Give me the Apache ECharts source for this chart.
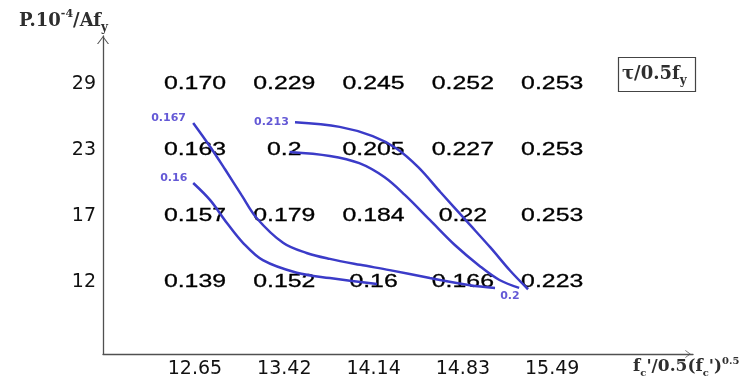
<!DOCTYPE html>
<html>
<head>
<meta charset="utf-8">
<script src="https://cdn.jsdelivr.net/npm/echarts@6/dist/echarts.min.js"></script>
<style>
  html, body { margin: 0; padding: 0; background: #ffffff; }
  #chart { width: 749px; height: 380px; }
</style>
</head>
<body>
<div id="chart"></div>
<script>
// Column and row tick labels (evenly spaced positions 0..n-1)
const xTicks = ['12.65', '13.42', '14.14', '14.83', '15.49'];
const yTicks = ['12', '17', '23', '29'];

// τ/0.5fy values, one array per row (bottom row first)
const row12 = ['0.139', '0.152', '0.16', '0.166', '0.223'];
const row17 = ['0.157', '0.179', '0.184', '0.22', '0.253'];
const row23 = ['0.163', '0.2', '0.205', '0.227', '0.253'];
const row29 = ['0.170', '0.229', '0.245', '0.252', '0.253'];

// Contour lines, as [column position, row position]
const contour0167 = [[-0.02, 2.41], [0.17, 2.05], [0.34, 1.70], [0.52, 1.32], [0.69, 0.97],
  [0.99, 0.59], [1.25, 0.44], [1.51, 0.35], [1.85, 0.26], [2.18, 0.18], [2.63, 0.06],
  [3.08, -0.05], [3.36, -0.09]];
const contour016 = [[-0.02, 1.50], [0.17, 1.24], [0.36, 0.89], [0.54, 0.59], [0.76, 0.33],
  [1.14, 0.14], [1.51, 0.06], [2.04, -0.03]];
const contour0213 = [[1.12, 2.42], [1.62, 2.35], [1.99, 2.21], [2.26, 2.02], [2.50, 1.74],
  [2.75, 1.36], [3.05, 0.91], [3.31, 0.52], [3.53, 0.17], [3.73, -0.11]];
const contour02 = [[1.06, 1.97], [1.51, 1.91], [1.84, 1.80], [2.12, 1.59], [2.35, 1.32],
  [2.63, 0.94], [2.91, 0.56], [3.19, 0.24], [3.41, 0.03], [3.63, -0.09]];

const rows = [row12, row17, row23, row29];
const cellPoints = [];
const cellTexts = [];
rows.forEach(function (row, r) {
  row.forEach(function (txt, c) {
    cellPoints.push([c, r]);
    cellTexts.push(txt);
  });
});

const serif = "'DejaVu Serif', 'Liberation Serif', serif";
const curveColor = '#3b3bc8';
const curveLabelColor = '#6459d6';
const nameColor = '#2e2e2e';

function contourSeries(name, pts, labelIndex, labelPos) {
  const data = pts.map(function (p, i) {
    if (i !== labelIndex) return p;
    return {
      value: p,
      label: {
        show: true,
        position: labelPos,
        formatter: name,
        color: curveLabelColor,
        fontFamily: "'DejaVu Sans', sans-serif",
        fontWeight: 'bold',
        fontSize: 11
      }
    };
  });
  return {
    type: 'line',
    name: name,
    data: data,
    smooth: 0.35,
    symbol: 'circle',
    symbolSize: 0,
    showSymbol: true,
    showAllSymbol: true,
    silent: true,
    lineStyle: { color: curveColor, width: 2.5 },
    itemStyle: { color: curveColor },
    z: 3
  };
}

const arrowPath = 'path://M0,8 L6,0 L12,8 L10.8,8 L6,1.6 L1.2,8 Z';

const chart = echarts.init(document.getElementById('chart'), null, { renderer: 'canvas' });
chart.setOption({
  backgroundColor: '#ffffff',
  animation: false,
  title: {
    text: '{t|τ/0.5f}{s|y}',
    left: 618,
    top: 53,
    padding: [8, 9, 5, 4],
    borderColor: '#444444',
    borderWidth: 1.2,
    textStyle: {
      rich: {
        t: { fontFamily: serif, fontWeight: 'bold', fontSize: 18, color: nameColor, lineHeight: 22 },
        s: { fontFamily: serif, fontWeight: 'bold', fontSize: 12, color: nameColor, lineHeight: 26, verticalAlign: 'bottom' }
      }
    }
  },
  grid: { left: 103, right: 56, top: 36, bottom: 26, containLabel: false },
  xAxis: {
    type: 'value',
    min: -1.03,
    max: 5.577,
    name: "{b|f}{s|c}{b|'/0.5(f}{s|c}{b|')}{p|0.5}",
    nameLocation: 'end',
    nameGap: -60,
    nameTextStyle: {
      align: 'left',
      verticalAlign: 'top',
      padding: [2, 0, 0, 0],
      rich: {
        b: { fontFamily: serif, fontWeight: 'bold', fontSize: 17, color: nameColor, lineHeight: 20 },
        s: { fontFamily: serif, fontWeight: 'bold', fontSize: 10, color: nameColor, lineHeight: 22, verticalAlign: 'bottom' },
        p: { fontFamily: serif, fontWeight: 'bold', fontSize: 10, color: nameColor, lineHeight: 20, verticalAlign: 'top' }
      }
    },
    axisLine: {
      onZero: false,
      symbol: ['none', arrowPath],
      symbolSize: [8, 11],
      symbolOffset: [0, -5],
      lineStyle: { color: '#505050', width: 1.3 }
    },
    axisTick: { show: false },
    splitLine: { show: false },
    axisLabel: {
      customValues: [0, 1, 2, 3, 4],
      formatter: function (v) { return xTicks[Math.round(v)]; },
      fontFamily: "'DejaVu Sans', sans-serif",
      fontSize: 19,
      color: '#111111',
      margin: 6
    }
  },
  yAxis: {
    type: 'value',
    min: -1.091,
    max: 3.727,
    name: '{b|P.10}{p|-4}{b|/Af}{s|y}',
    nameLocation: 'end',
    nameGap: 2,
    nameTextStyle: {
      align: 'right',
      verticalAlign: 'bottom',
      padding: [0, -5, 0, 0],
      rich: {
        b: { fontFamily: serif, fontWeight: 'bold', fontSize: 18, color: nameColor, lineHeight: 20 },
        s: { fontFamily: serif, fontWeight: 'bold', fontSize: 12, color: nameColor, lineHeight: 25, verticalAlign: 'bottom' },
        p: { fontFamily: serif, fontWeight: 'bold', fontSize: 11, color: nameColor, lineHeight: 20, verticalAlign: 'top' }
      }
    },
    axisLine: {
      onZero: false,
      show: true,
      symbol: ['none', arrowPath],
      symbolSize: [12, 8],
      symbolOffset: [0, -4],
      lineStyle: { color: '#505050', width: 1.3 }
    },
    axisTick: { show: false },
    splitLine: { show: false },
    axisLabel: {
      customValues: [0, 1, 2, 3],
      formatter: function (v) { return yTicks[Math.round(v)]; },
      fontFamily: "'DejaVu Sans', sans-serif",
      fontSize: 19,
      color: '#111111',
      margin: 7
    }
  },
  series: [
    {
      type: 'custom',
      name: 'τ/0.5fy',
      data: cellPoints,
      silent: true,
      z: 2,
      renderItem: function (params, api) {
        const p = api.coord([api.value(0), api.value(1)]);
        return {
          type: 'text',
          x: p[0],
          y: p[1],
          scaleX: 1.38,
          style: {
            text: cellTexts[params.dataIndex],
            fontFamily: "'Liberation Sans', Arial, sans-serif",
            fontSize: 18,
            fill: '#000000',
            stroke: '#000000',
            lineWidth: 0.3,
            align: 'center',
            verticalAlign: 'middle'
          }
        };
      }
    },
    contourSeries('0.167', contour0167, 0, [-42, -10]),
    contourSeries('0.16', contour016, 0, [-33, -10]),
    contourSeries('0.213', contour0213, 0, [-41, -6]),
    contourSeries('0.2', contour02, contour02.length - 1, [-19, 3])
  ]
});
</script>
</body>
</html>
